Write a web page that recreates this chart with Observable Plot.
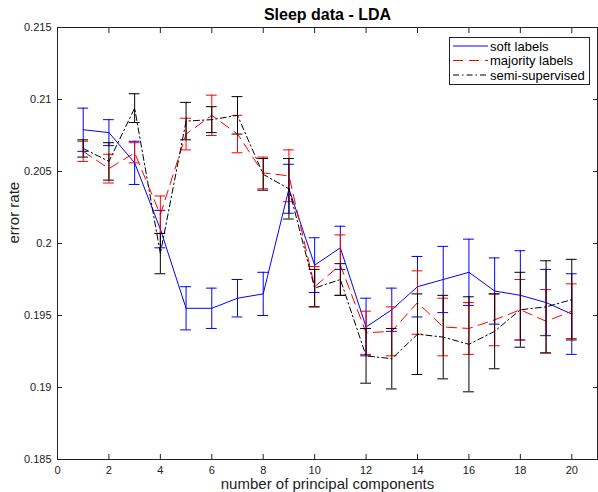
<!DOCTYPE html>
<html><head><meta charset="utf-8">
<script src="https://cdn.jsdelivr.net/npm/d3@7"></script>
<script src="https://cdn.jsdelivr.net/npm/@observablehq/plot@0.6"></script>
<style>
body{margin:0;background:#fff;}
#wrap{position:relative;width:598px;height:492px;font-family:"Liberation Sans",Arial,sans-serif;}
#legend{position:absolute;left:449px;top:37px;}
</style></head><body><div id="wrap"></div>
<script>
const components = [1,2,3,4,5,6,7,8,9,10,11,12,13,14,15,16,17,18,19,20];
const softMean = [0.2079,0.2077,0.2056,0.2010,0.1955,0.1955,0.1962,0.1965,0.2038,0.1985,0.1997,0.1942,0.1954,0.1970,0.1975,0.1980,0.1967,0.1964,0.1959,0.1951];
const softErr  = [0.0015,0.0009,0.0015,0.0013,0.0015,0.0014,0.0013,0.0015,0.0017,0.0019,0.0015,0.0020,0.0015,0.0021,0.0023,0.0023,0.0023,0.0031,0.0023,0.0028];
const majMean  = [0.2064,0.2052,0.2063,0.2020,0.2076,0.2089,0.2076,0.2049,0.2047,0.1970,0.1985,0.1938,0.1939,0.1959,0.1942,0.1941,0.1947,0.1954,0.1946,0.1953];
const majErr   = [0.0007,0.0010,0.0007,0.0013,0.0011,0.0014,0.0013,0.0011,0.0018,0.0014,0.0021,0.0015,0.0017,0.0022,0.0020,0.0018,0.0018,0.0021,0.0022,0.0019];
const semiMean = [0.2066,0.2057,0.2094,0.1993,0.2085,0.2086,0.2089,0.2048,0.2038,0.1969,0.1975,0.1922,0.1920,0.1937,0.1935,0.1930,0.1939,0.1954,0.1956,0.1961];
const semiErr  = [0.0006,0.0013,0.0010,0.0014,0.0013,0.0009,0.0013,0.0011,0.0021,0.0013,0.0011,0.0019,0.0021,0.0028,0.0029,0.0033,0.0026,0.0026,0.0032,0.0028];
const seriesNames = ["soft labels","majority labels","semi-supervised"];
const xTicks = [0,2,4,6,8,10,12,14,16,18,20];
const yTicks = [0.185,0.19,0.195,0.2,0.205,0.21,0.215];
const titleText = ["Sleep data - LDA"];
const xLabelText = ["number of principal components"];
const yLabelText = ["error rate"];

const means = [softMean, majMean, semiMean];
const errs = [softErr, majErr, semiErr];
const colors = ["#0000ff","#ff0000","#000000"];
const dashes = [null,"10,6","6,3,1.5,3"];
const cap = 0.21;
const font = "Liberation Sans, Arial, sans-serif";

const marks = [];
seriesNames.forEach((name, s) => {
  const data = components.map((x, i) => ({x, y: means[s][i], lo: means[s][i] - errs[s][i], hi: means[s][i] + errs[s][i]}));
  marks.push(
    Plot.ruleX(data, {x: "x", y1: "lo", y2: "hi", stroke: colors[s], strokeWidth: 1}),
    Plot.ruleY(data, {y: "lo", x1: d => d.x - cap, x2: d => d.x + cap, stroke: colors[s], strokeWidth: 1}),
    Plot.ruleY(data, {y: "hi", x1: d => d.x - cap, x2: d => d.x + cap, stroke: colors[s], strokeWidth: 1}),
    Plot.line(data, {x: "x", y: "y", stroke: colors[s], strokeWidth: 1, strokeDasharray: dashes[s]})
  );
});

const fmt = d => String(+d.toFixed(3));
const chart = Plot.plot({
  width: 598, height: 492,
  marginLeft: 57, marginRight: 1, marginTop: 27, marginBottom: 33,
  style: {fontFamily: font, background: "#fff"},
  x: {domain: [0, 21]},
  y: {domain: [0.185, 0.215]},
  marks: [
    ...marks,
    Plot.frame({stroke: "#222"}),
    Plot.axisX(xTicks, {anchor: "bottom", tickSize: 0, tickPadding: 7, fontSize: 11, label: null, tickFormat: fmt, fill: "#222"}),
    Plot.axisX(xTicks, {anchor: "bottom", tickSize: -5, fill: "none", label: null, stroke: "#222"}),
    Plot.axisX(xTicks, {anchor: "top", tickSize: -5, fill: "none", label: null, stroke: "#222"}),
    Plot.axisY(yTicks, {anchor: "left", tickSize: 0, tickPadding: 6, fontSize: 11, label: null, tickFormat: fmt, fill: "#222"}),
    Plot.axisY(yTicks, {anchor: "left", tickSize: -5, fill: "none", label: null, stroke: "#222"}),
    Plot.axisY(yTicks, {anchor: "right", tickSize: -5, fill: "none", label: null, stroke: "#222"}),
    Plot.text(titleText, {text: d => d, frameAnchor: "top", lineAnchor: "middle", dy: -13, fontSize: 16, fontWeight: "bold", fill: "#000"}),
    Plot.text(xLabelText, {text: d => d, frameAnchor: "bottom", lineAnchor: "middle", dy: 25, fontSize: 15, fill: "#222"}),
    Plot.text(yLabelText, {text: d => d, frameAnchor: "left", lineAnchor: "middle", dx: -43, rotate: -90, fontSize: 15, fill: "#222"})
  ]
});
const wrap = document.getElementById("wrap");
wrap.appendChild(chart);

// legend
const lw = 140, lh = 47;
const leg = d3.select(wrap).append("svg").attr("id", "legend").attr("width", lw + 1).attr("height", lh + 1);
leg.append("rect").attr("x", 0.5).attr("y", 0.5).attr("width", lw).attr("height", lh).attr("fill", "#fff").attr("stroke", "#222");
seriesNames.forEach((name, s) => {
  const cy = 9 + s * 14.5;
  leg.append("line").attr("x1", 4).attr("x2", 39).attr("y1", cy).attr("y2", cy)
    .attr("stroke", colors[s]).attr("stroke-width", 1).attr("stroke-dasharray", dashes[s]);
  leg.append("text").attr("x", 41).attr("y", cy).attr("dy", "0.35em").attr("font-size", 13)
    .attr("font-family", font).attr("fill", "#000").text(name);
});
</script></body></html>
